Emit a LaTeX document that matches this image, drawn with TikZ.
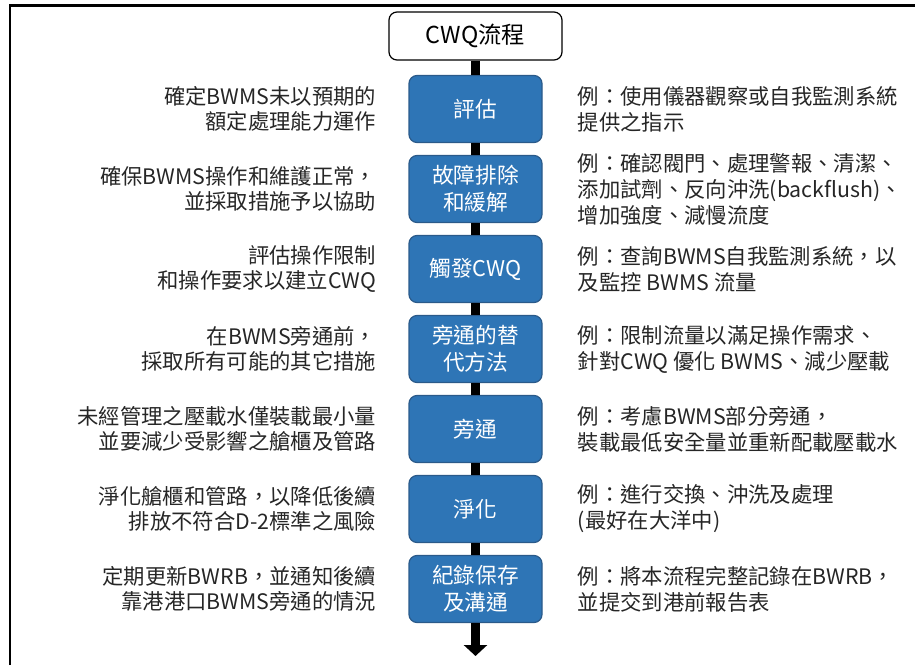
\documentclass[tikz,border=0pt]{standalone}
\usepackage{fontspec}
\setmainfont{Noto Sans CJK TC}
\usetikzlibrary{positioning,arrows.meta}

\definecolor{boxblue}{HTML}{2E75B6}
\definecolor{boxedge}{HTML}{2A5A8A}
\definecolor{txtgray}{HTML}{262626}

\begin{document}
\begin{tikzpicture}[
  x=0.75pt, y=-0.75pt,
  node distance = 60pt,
  ttlnode/.style={draw=black, line width=0.9pt, rounded corners=6pt, fill=white, minimum width=129.75pt, minimum height=36pt, font=\fontsize{17.5pt}{20pt}\selectfont},
  stepnode/.style={draw=boxedge, line width=0.9pt, rounded corners=6pt, fill=boxblue, text=white, minimum width=99.75pt, minimum height=50.25pt, align=center, inner sep=0pt, font=\fontsize{16.25pt}{20pt}\selectfont},
  lnode/.style={inner sep=0pt, align=right, text=txtgray, font=\fontsize{16pt}{19pt}\selectfont},
  rnode/.style={inner sep=0pt, align=left, text=txtgray, font=\fontsize{16pt}{19.5pt}\selectfont},
  spine/.style={line width=6.75pt, draw=black}
  ]

\useasboundingbox (0,0) rectangle (915,665);
\draw [line width=2.2pt] (10,665) -- (10,5.5) -- (915,5.5);

\node [ttlnode] (ttl) at (475.5,36) {CWQ流程};

\node [stepnode] (b1) at (475.5,109) {評估};
\node [stepnode, below of=b1] (b2) {故障排除\\和緩解};
\node [stepnode, below of=b2] (b3) {觸發CWQ};
\node [stepnode, below of=b3] (b4) {旁通的替\\代方法};
\node [stepnode, below of=b4] (b5) {旁通};
\node [stepnode, below of=b5] (b6) {淨化};
\node [stepnode, below of=b6] (b7) {紀錄保存\\及溝通};
\coordinate [below of=b7, node distance=50.25pt] (tip);

\node [lnode, left=24pt of b1] (l1) {確定BWMS未以預期的\\額定處理能力運作};
\node [lnode, left=24pt of b2] (l2) {確保BWMS操作和維護正常，\\並採取措施予以協助};
\node [lnode, left=24pt of b3] (l3) {評估操作限制\\和操作要求以建立CWQ};
\node [lnode, left=24pt of b4] (l4) {在BWMS旁通前，\\採取所有可能的其它措施};
\node [lnode, left=24pt of b5] (l5) {未經管理之壓載水僅裝載最小量\\並要減少受影響之艙櫃及管路};
\node [lnode, left=24pt of b6] (l6) {淨化艙櫃和管路，以降低後續\\排放不符合D-2標準之風險};
\node [lnode, left=24pt of b7] (l7) {定期更新BWRB，並通知後續\\靠港港口BWMS旁通的情況};

\node [rnode, right=26.25pt of b1] (r1) {例：使用儀器觀察或自我監測系統\\提供之指示};
\node [rnode, right=26.25pt of b2] (r2) {例：確認閥門、處理警報、清潔、\\添加試劑、反向沖洗(backflush)、\\增加強度、減慢流度};
\node [rnode, right=26.25pt of b3] (r3) {例：查詢BWMS自我監測系統，以\\及監控 BWMS 流量};
\node [rnode, right=26.25pt of b4] (r4) {例：限制流量以滿足操作需求、\\針對CWQ 優化 BWMS、減少壓載};
\node [rnode, right=26.25pt of b5] (r5) {例：考慮BWMS部分旁通，\\裝載最低安全量並重新配載壓載水};
\node [rnode, right=26.25pt of b6] (r6) {例：進行交換、沖洗及處理\\(最好在大洋中)};
\node [rnode, right=26.25pt of b7] (r7) {例：將本流程完整記錄在BWRB，\\並提交到港前報告表};

\draw [spine] (ttl) -- (b1);
\draw [spine] (b1) -- (b2);
\draw [spine] (b2) -- (b3);
\draw [spine] (b3) -- (b4);
\draw [spine] (b4) -- (b5);
\draw [spine] (b5) -- (b6);
\draw [spine] (b6) -- (b7);
\draw [spine, -{Triangle[width=17.25pt,length=8.25pt]}] (b7) -- (tip);

\end{tikzpicture}
\end{document}
